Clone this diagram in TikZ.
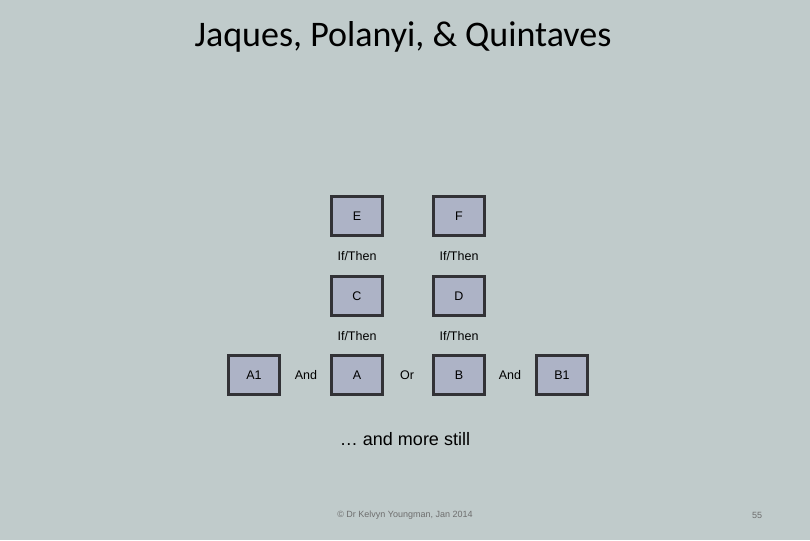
\documentclass[tikz,border=0pt]{standalone}
\usepackage{fontspec}
\setmainfont{Liberation Sans}
\newfontfamily\titlefont{Carlito}
\definecolor{bgc}{RGB}{192,203,203}
\definecolor{boxfill}{RGB}{173,179,198}
\definecolor{boxline}{RGB}{50,50,54}
\definecolor{foot}{RGB}{110,110,110}
\begin{document}
\begin{tikzpicture}[x=1pt,y=-1pt,
  bx/.style={draw=boxline,line width=3.2pt,fill=boxfill,minimum width=51pt,minimum height=39pt,inner sep=0pt,font=\fontsize{12.5}{14}\selectfont},
  lbl/.style={inner sep=0pt,font=\fontsize{12.5}{14}\selectfont}]
\fill[bgc] (0,0) rectangle (810,540);
\useasboundingbox (0,0) rectangle (810,540);
\node[font=\titlefont\fontsize{36}{42}\selectfont] (title) at (403,37) {Jaques, Polanyi, \& Quintaves};
\node[bx] (E) at (357,216) {E};
\node[bx] (F) at (459,216) {F};
\node[lbl] (it1) at (357,256) {If/Then};
\node[lbl] (it2) at (459,256) {If/Then};
\node[bx] (C) at (357,296) {C};
\node[bx] (D) at (459,296) {D};
\node[lbl] (it3) at (357,336) {If/Then};
\node[lbl] (it4) at (459,336) {If/Then};
\node[bx] (A1) at (254,375) {A1};
\node[lbl] (and1) at (306,375) {And};
\node[bx] (A) at (357,375) {A};
\node[lbl] (or) at (407,375) {Or};
\node[bx] (B) at (459,375) {B};
\node[lbl] (and2) at (510,375) {And};
\node[bx] (B1) at (562,375) {B1};
\node[inner sep=0pt,font=\fontsize{18}{21}\selectfont] (more) at (405,439) {… and more still};
\node[inner sep=0pt,text=foot,font=\fontsize{9}{11}\selectfont] (foot) at (405,515) {© Dr Kelvyn Youngman, Jan 2014};
\node[inner sep=0pt,text=foot,font=\fontsize{9}{11}\selectfont] (pg) at (757,515) {55};
\end{tikzpicture}
\end{document}
